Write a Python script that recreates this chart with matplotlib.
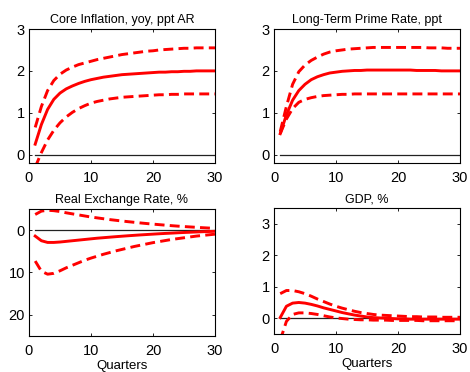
import matplotlib
matplotlib.use("Agg")
import matplotlib.pyplot as plt

plt.rcParams['font.family'] = ['Liberation Sans', 'DejaVu Sans']

quarters = list(range(1, 31))

core_mid = [0.25, 0.72, 1.08, 1.32, 1.47, 1.57, 1.64, 1.7, 1.75, 1.79, 1.82, 1.85, 1.87, 1.89, 1.91,
            1.92, 1.93, 1.94, 1.95, 1.96, 1.97, 1.97, 1.98, 1.98, 1.99, 1.99, 2.0, 2.0, 2.0, 2.0]
core_hi = [0.65, 1.15, 1.53, 1.77, 1.92, 2.02, 2.09, 2.15, 2.19, 2.23, 2.27, 2.3, 2.33, 2.36, 2.39,
           2.41, 2.43, 2.45, 2.47, 2.48, 2.5, 2.51, 2.52, 2.53, 2.54, 2.54, 2.55, 2.55, 2.55, 2.55]
core_lo = [-0.3, 0.05, 0.35, 0.58, 0.76, 0.9, 1.01, 1.1, 1.17, 1.23, 1.27, 1.3, 1.33, 1.35, 1.37,
           1.38, 1.39, 1.4, 1.41, 1.42, 1.43, 1.43, 1.44, 1.44, 1.45, 1.45, 1.45, 1.45, 1.45, 1.45]

prime_mid = [0.5, 0.95, 1.3, 1.53, 1.68, 1.79, 1.86, 1.91, 1.95, 1.97, 1.99, 2.0, 2.01, 2.01, 2.02,
             2.02, 2.02, 2.02, 2.02, 2.02, 2.02, 2.02, 2.01, 2.01, 2.01, 2.01, 2.0, 2.0, 2.0, 2.0]
prime_hi = [0.55, 1.15, 1.68, 1.98, 2.14, 2.25, 2.33, 2.4, 2.45, 2.48, 2.5, 2.52, 2.53, 2.54, 2.55,
            2.56, 2.56, 2.56, 2.56, 2.56, 2.56, 2.56, 2.56, 2.56, 2.55, 2.55, 2.55, 2.54, 2.54, 2.54]
prime_lo = [0.5, 0.85, 1.1, 1.25, 1.32, 1.36, 1.39, 1.41, 1.42, 1.43, 1.44, 1.44, 1.45, 1.45, 1.45,
            1.45, 1.45, 1.45, 1.45, 1.45, 1.45, 1.45, 1.45, 1.45, 1.45, 1.45, 1.45, 1.45, 1.45, 1.45]

rer_mid = [1.4, 2.5, 2.9, 2.9, 2.8, 2.65, 2.5, 2.35, 2.2, 2.05, 1.9, 1.78, 1.66, 1.54, 1.43,
           1.32, 1.22, 1.12, 1.03, 0.94, 0.85, 0.77, 0.7, 0.62, 0.55, 0.49, 0.43, 0.37, 0.32, 0.27]
rer_hi = [-3.7, -4.5, -4.7, -4.6, -4.4, -4.1, -3.85, -3.6, -3.35, -3.1, -2.9, -2.7, -2.5, -2.33, -2.16,
          -2.0, -1.85, -1.7, -1.56, -1.43, -1.3, -1.18, -1.06, -0.95, -0.85, -0.76, -0.67, -0.58, -0.5, -0.42]
rer_lo = [7.3, 9.7, 10.4, 10.2, 9.6, 8.9, 8.3, 7.7, 7.1, 6.6, 6.15, 5.7, 5.3, 4.9, 4.55,
          4.2, 3.85, 3.55, 3.25, 2.95, 2.7, 2.45, 2.2, 2.0, 1.8, 1.6, 1.4, 1.25, 1.1, 0.95]

gdp_mid = [0.02, 0.38, 0.48, 0.5, 0.48, 0.44, 0.39, 0.33, 0.28, 0.23, 0.18, 0.14, 0.1, 0.07, 0.04,
           0.02, 0.01, 0.0, -0.01, -0.02, -0.02, -0.03, -0.03, -0.03, -0.03, -0.03, -0.03, -0.03, -0.03, -0.03]
gdp_hi = [0.78, 0.88, 0.88, 0.84, 0.78, 0.7, 0.61, 0.53, 0.45, 0.38, 0.32, 0.27, 0.22, 0.18, 0.15,
          0.12, 0.1, 0.09, 0.08, 0.07, 0.06, 0.05, 0.05, 0.04, 0.04, 0.04, 0.03, 0.03, 0.03, 0.03]
gdp_lo = [-0.7, -0.1, 0.12, 0.17, 0.17, 0.15, 0.12, 0.08, 0.04, 0.01, -0.01, -0.03, -0.04, -0.05, -0.05,
          -0.06, -0.06, -0.06, -0.07, -0.07, -0.07, -0.07, -0.07, -0.08, -0.08, -0.08, -0.08, -0.08, -0.08, -0.08]

panels = [
    ("Core Inflation, yoy, ppt AR", core_mid, core_hi, core_lo, (-0.2, 3), [0, 1, 2, 3], False,
     [0.0617, 0.5618, 0.3957, 0.3602]),
    ("Long-Term Prime Rate, ppt", prime_mid, prime_hi, prime_lo, (-0.2, 3), [0, 1, 2, 3], False,
     [0.583, 0.5618, 0.3957, 0.3602]),
    ("Real Exchange Rate, %", rer_mid, rer_hi, rer_lo, (25, -5), [0, 10, 20], True,
     [0.0617, 0.0968, 0.3957, 0.3414]),
    ("GDP, %", gdp_mid, gdp_hi, gdp_lo, (-0.5, 3.5), [0, 1, 2, 3], True,
     [0.583, 0.1022, 0.3957, 0.3387]),
]

fig = plt.figure(figsize=(4.7, 3.72), dpi=100)

for title, mid, hi, lo, ylim, yticks, bottom_row, pos in panels:
    ax = fig.add_axes(pos)
    ax.plot([1, 30], [0, 0], color='#222222', lw=0.9)
    ax.plot(quarters, mid, color='red', lw=2.1)
    ax.plot(quarters, hi, color='red', lw=2.1, dashes=(3.4, 1.8))
    ax.plot(quarters, lo, color='red', lw=2.1, dashes=(3.4, 1.8))
    ax.set_xlim(0, 30)
    ax.set_ylim(*ylim)
    ax.set_xticks([0, 10, 20, 30])
    ax.set_yticks(yticks)
    ax.tick_params(direction='in', length=2.5, width=0.6, top=True, right=True, labelsize=10.5)
    ax.tick_params(axis='x', pad=6)
    ax.tick_params(axis='y', pad=3)
    for sp in ax.spines.values():
        sp.set_linewidth(0.8)
    ax.set_title(title, fontsize=9, pad=4)
    if bottom_row:
        ax.set_xlabel("Quarters", fontsize=9.5, labelpad=1)

fig.savefig("out.png", dpi=100)
